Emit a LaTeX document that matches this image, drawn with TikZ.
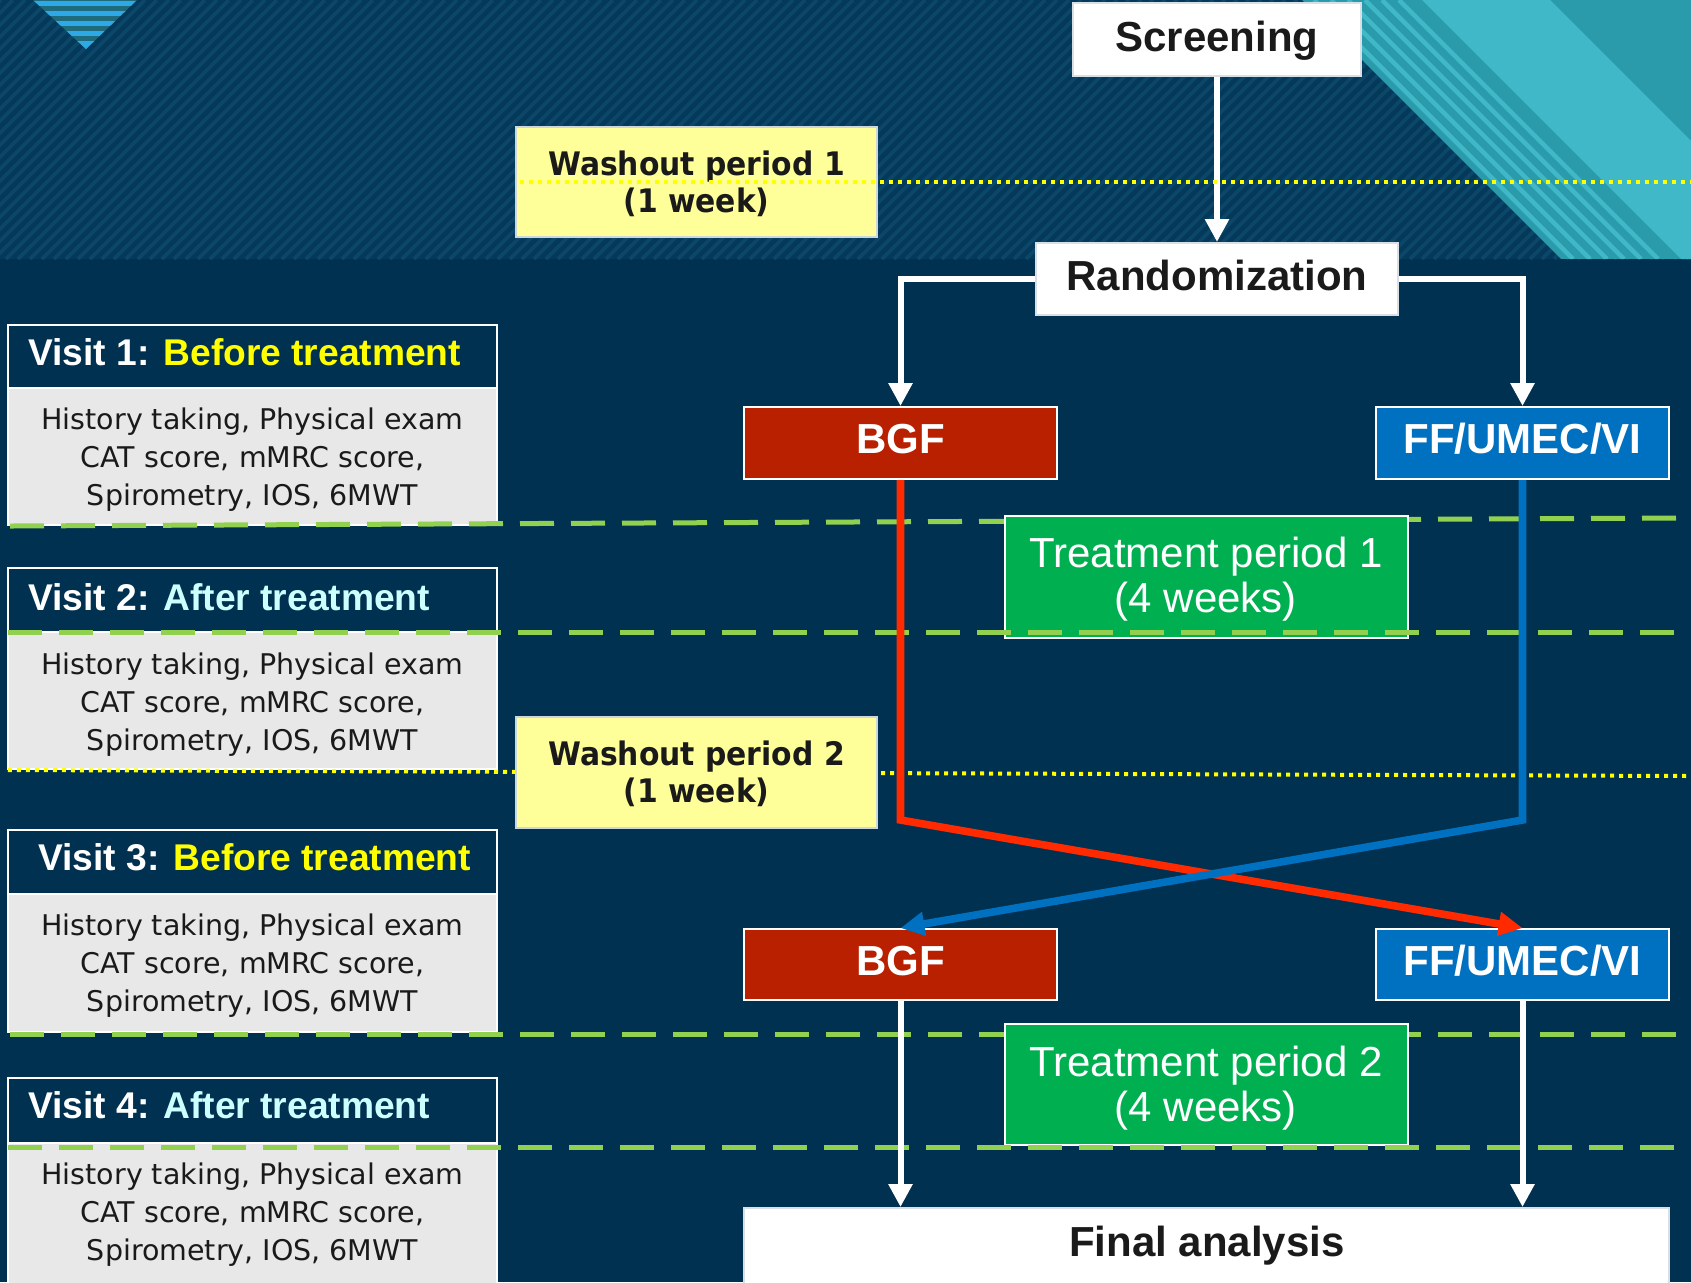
\documentclass[tikz,border=0pt]{standalone}
\usepackage{fontspec}
\usetikzlibrary{arrows.meta,fit}
\newfontfamily\arialfont{Liberation Sans}
\newfontfamily\dvfont{DejaVu Sans}
\newfontfamily\dvnarrowfont[FakeStretch=0.92]{DejaVu Sans}

\definecolor{navy}{HTML}{003150}
\definecolor{navytop}{HTML}{04395A}
\definecolor{hatch}{HTML}{0C4668}
\definecolor{tealdark}{HTML}{2A9BAB}
\definecolor{teallight}{HTML}{40B8C8}
\definecolor{trilight}{HTML}{2EA9E8}
\definecolor{tridark}{HTML}{1E6B7D}
\definecolor{bgfred}{HTML}{B82000}
\definecolor{ffblue}{HTML}{0070C0}
\definecolor{tpgreen}{HTML}{00B050}
\definecolor{washyellow}{HTML}{FFFF99}
\definecolor{redline}{HTML}{FF2A00}
\definecolor{blueline}{HTML}{0070C0}
\definecolor{dashgreen}{HTML}{92D050}
\definecolor{dotyellow}{HTML}{FFFF00}
\definecolor{aftercyan}{HTML}{CCFFFF}
\definecolor{bodygray}{HTML}{E8E8E8}
\definecolor{ink}{HTML}{1A1A1A}

\newcommand\bigboldfont{\fontsize{21pt}{25pt}\selectfont\arialfont\bfseries}
\newcommand\tpfont{\fontsize{21pt}{22.5pt}\selectfont\arialfont}
\newcommand\visitfont{\fontsize{18.6pt}{22pt}\selectfont\arialfont\bfseries}
\newcommand\bodyfont{\fontsize{14.25pt}{19pt}\selectfont\dvfont}
\newcommand\washfont{\fontsize{16.2pt}{18.5pt}\selectfont\dvnarrowfont\bfseries}

\begin{document}
\begin{tikzpicture}[x=0.5pt,y=-0.5pt,
  box/.style={inner sep=0pt, draw=white, line width=1pt},
  whitebox/.style={box, fill=white, draw=white!85!navy},
  bgfbox/.style={box, fill=bgfred},
  ffbox/.style={box, fill=ffblue},
  tpbox/.style={box, fill=tpgreen},
  washbox/.style={box, fill=washyellow, draw=white!80!navy},
  headbox/.style={box, fill=navy},
  bodybox/.style={box, fill=bodygray},
  greendash/.style={draw=dashgreen, line width=2.5pt, dash pattern=on 17pt off 8.5pt},
  yellowdots/.style={draw=dotyellow, line width=2pt, dash pattern=on 2pt off 2.5pt},
  flow/.style={draw=white, line width=3pt, -{Triangle[width=11.5pt,length=11.5pt]}},
  swap/.style={line width=3.8pt, -{Triangle[width=11.5pt,length=12pt]}},
  label/.style={inner sep=0pt, anchor=base},
  bigtext/.style={label, font=\bigboldfont, text=ink},
  armtext/.style={label, font=\bigboldfont, text=white},
  tptext/.style={label, align=center, font=\tpfont, text=white},
  washtext/.style={label, align=center, font=\washfont, text=ink},
  visittext/.style={label, anchor=base west, font=\visitfont, text=white},
  bodytext/.style={label, align=center, font=\bodyfont, text=ink}]

\useasboundingbox (0,0) rectangle (1691,1282);

% ---------- background ----------
\fill[navy] (0,0) rectangle (1691,1282);
\fill[navytop] (0,0) rectangle (1691,259);
\begin{scope}
  \clip (0,0) rectangle (1691,259);
  \foreach \k in {-270,-258,...,1700}
    \draw[hatch, line width=1.8pt] (\k,259) -- ++(259,-259);
\end{scope}

% teal ribbon in the upper right corner
\begin{scope}
  \clip (1302,0) -- (1691,0) -- (1691,259) -- (1561,259) -- cycle;
  \fill[tealdark] (1302,0) rectangle (1691,259);
  \fill[teallight] (1422,0) -- (1550,0) -- (1809,259) -- (1681,259) -- cycle;
  \foreach \o in {12,29,46,63,80,97}
    \draw[teallight, line width=2.2pt] ({1302+\o},0) -- ++(259,259);
\end{scope}

% striped triangle in the upper left corner
\begin{scope}
  \clip (33,0) -- (137,0) -- (86,49) -- cycle;
  \fill[tridark] (30,0) rectangle (140,50);
  \foreach \a/\b in {1/6,11/16,21/26,31/36,41/50}
    \fill[trilight] (30,\a) rectangle (140,\b);
\end{scope}

% ---------- visit panels ----------
\node[headbox, fit={(8,325) (497,388)}] (v1h) {};
\node[bodybox, fit={(8,388) (497,525)}] (v1b) {};
\node[headbox, fit={(8,568) (497,632)}] (v2h) {};
\node[bodybox, fit={(8,632) (497,769)}] (v2b) {};
\node[headbox, fit={(8,830) (497,894)}] (v3h) {};
\node[bodybox, fit={(8,894) (497,1032)}] (v3b) {};
\node[headbox, fit={(8,1078) (497,1143)}] (v4h) {};
\node[bodybox, fit={(8,1143) (497,1284)}] (v4b) {};

\node[visittext] (v1t) at (28,365) {Visit 1: \textcolor{dotyellow}{Before treatment}};
\node[visittext] (v2t) at (28,610) {Visit 2: \textcolor{aftercyan}{After treatment}};
\node[visittext] (v3t) at (38,870) {Visit 3: \textcolor{dotyellow}{Before treatment}};
\node[visittext] (v4t) at (28,1118) {Visit 4: \textcolor{aftercyan}{After treatment}};

% multi-line labels are placed by the baseline of their last line
\node[bodytext] (v1bt) at (252.5,505) {History taking, Physical exam\\CAT score, mMRC score,\\Spirometry, IOS, 6MWT};
\node[bodytext] (v2bt) at (252.5,750) {History taking, Physical exam\\CAT score, mMRC score,\\Spirometry, IOS, 6MWT};
\node[bodytext] (v3bt) at (252.5,1011) {History taking, Physical exam\\CAT score, mMRC score,\\Spirometry, IOS, 6MWT};
\node[bodytext] (v4bt) at (252.5,1260) {History taking, Physical exam\\CAT score, mMRC score,\\Spirometry, IOS, 6MWT};

% period boundaries lying behind the period boxes
\coordinate (dA1) at (10,526);   \coordinate (dA2) at (1691,518);
\coordinate (dC1) at (10,1034);  \coordinate (dC2) at (1691,1034);
\coordinate (wB1) at (8,770);    \coordinate (wB2) at (1691,776);
\draw[greendash] (dA1) -- (dA2);
\draw[greendash] (dC1) -- (dC2);
\draw[yellowdots] (wB1) -- (wB2);

% ---------- flow boxes ----------
\node[whitebox, fit={(1073,3) (1361,76)}] (scr) {};
\node[whitebox, fit={(1036,243) (1398,315)}] (rand) {};
\node[bgfbox, fit={(744,407) (1057,479)}] (bgf1) {};
\node[ffbox, fit={(1376,407) (1669,479)}] (ff1) {};
\node[bgfbox, fit={(744,929) (1057,1000)}] (bgf2) {};
\node[ffbox, fit={(1376,929) (1669,1000)}] (ff2) {};
\node[whitebox, fit={(744,1208) (1669,1284)}] (final) {};
\node[tpbox, fit={(1005,516) (1408,638)}] (tp1) {};
\node[tpbox, fit={(1005,1024) (1408,1145)}] (tp2) {};
\node[washbox, fit={(516,127) (877,237)}] (wo1) {};
\node[washbox, fit={(516,717) (877,828)}] (wo2) {};

\node[bigtext] (scrt) at (1217,51) {Screening};
\node[bigtext] (randt) at (1217,290) {Randomization};
\node[bigtext] (finalt) at (1207,1256) {Final analysis};
\node[armtext] (bgf1t) at (900.5,453) {BGF};
\node[armtext] (ff1t) at (1522.5,453) {FF/UMEC/VI};
\node[armtext] (bgf2t) at (900.5,975) {BGF};
\node[armtext] (ff2t) at (1522.5,975) {FF/UMEC/VI};
\node[tptext] (tp1t) at (1206,612) {Treatment period 1\\(4 weeks)};
\node[tptext] (tp2t) at (1206,1121) {Treatment period 2\\(4 weeks)};
\node[washtext] (wo1t) at (696.5,212) {Washout period 1\\(1 week)};
\node[washtext] (wo2t) at (696.5,802) {Washout period 2\\(1 week)};

% period boundaries lying over the boxes
\coordinate (dB1) at (8,632);    \coordinate (dB2) at (1691,632);
\coordinate (dD1) at (8,1147);   \coordinate (dD2) at (1691,1147);
\draw[greendash] (dB1) -- (dB2);
\draw[greendash] (dD1) -- (dD2);

% ---------- connectors ----------
\draw[flow] (scr.south) -- (rand.north);
\draw[flow] (rand.west) -| (bgf1.north);
\draw[flow] (rand.east) -| (ff1.north);
\draw[flow] (bgf2.south) -- (bgf2.south |- final.north);
\draw[flow] (ff2.south) -- (ff2.south |- final.north);

\coordinate (redbend) at (bgf1.south |- 0,820);
\coordinate (bluebend) at (ff1.south |- 0,820);
\draw[swap, draw=redline] (bgf1.south) -- (redbend) -- (ff2.north);
\draw[swap, draw=blueline] (ff1.south) -- (bluebend) -- (bgf2.north);

% first washout boundary, drawn across its label box
\coordinate (wA1) at (520,182);  \coordinate (wA2) at (1691,182);
\draw[yellowdots] (wA1) -- (wA2);

\end{tikzpicture}
\end{document}
